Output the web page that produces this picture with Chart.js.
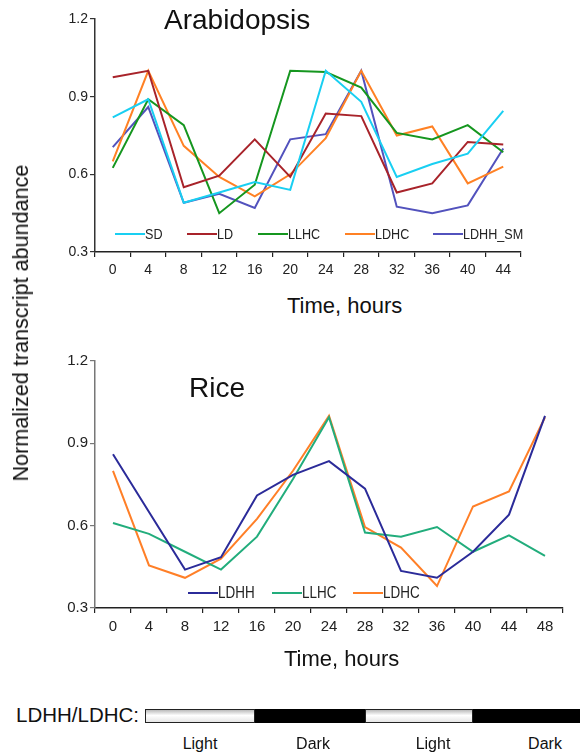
<!DOCTYPE html>
<html>
<head>
<meta charset="utf-8">
<script src="https://cdn.jsdelivr.net/npm/chart.js@4/dist/chart.umd.min.js"></script>
<style>
  body { margin: 0; background: #fff; width: 580px; height: 753px; position: relative; overflow: hidden;
         font-family: "Liberation Sans", Arial, sans-serif; color: #111; }
  canvas { position: absolute; left: 0; }
  .txt { position: absolute; white-space: nowrap; }
  .seg { position: absolute; top: 709px; height: 14px; box-sizing: border-box; }
</style>
</head>
<body>
<canvas id="arabChart" width="580" height="290" style="top:0px"></canvas>
<canvas id="riceChart" width="580" height="308" style="top:340px"></canvas>

<div class="txt" style="left:164px; top:4px; font-size:28px;">Arabidopsis</div>
<div class="txt" style="left:189px; top:372px; font-size:28px;">Rice</div>
<div class="txt" style="left:287px; top:293px; font-size:22px;">Time, hours</div>
<div class="txt" style="left:284px; top:646px; font-size:22px;">Time, hours</div>
<div class="txt" style="left:21px; top:323px; font-size:21.6px; transform: translate(-50%,-50%) rotate(-90deg);">Normalized transcript abundance</div>

<div class="txt" style="left:16px; top:703px; font-size:20.5px;">LDHH/LDHC:</div>
<div class="seg" style="left:145px; width:110px; border:1.5px solid #222; background: linear-gradient(#bbb, #fff 45%, #e6e6e6);"></div>
<div class="seg" style="left:255px; width:110px; background:#000;"></div>
<div class="seg" style="left:365px; width:108px; border:1.5px solid #222; background: linear-gradient(#bbb, #fff 45%, #e6e6e6);"></div>
<div class="seg" style="left:473px; width:107px; background:#000;"></div>
<div class="txt" style="left:200px; top:735px; font-size:16px; transform:translateX(-50%);">Light</div>
<div class="txt" style="left:313px; top:735px; font-size:16px; transform:translateX(-50%);">Dark</div>
<div class="txt" style="left:433px; top:735px; font-size:16px; transform:translateX(-50%);">Light</div>
<div class="txt" style="left:545px; top:735px; font-size:16px; transform:translateX(-50%);">Dark</div>

<script>
// Arabidopsis panel
const arabHours = ['0', '4', '8', '12', '16', '20', '24', '28', '32', '36', '40', '44'];
const arabSD     = [0.82, 0.89, 0.49, 0.53, 0.57, 0.54, 1.00, 0.88, 0.59, 0.64, 0.68, 0.845];
const arabLD     = [0.975, 1.00, 0.55, 0.595, 0.735, 0.59, 0.835, 0.825, 0.53, 0.565, 0.725, 0.715];
const arabLLHC   = [0.625, 0.89, 0.79, 0.45, 0.56, 1.00, 0.995, 0.935, 0.76, 0.735, 0.79, 0.685];
const arabLDHC   = [0.65, 1.00, 0.71, 0.59, 0.515, 0.60, 0.74, 1.00, 0.75, 0.785, 0.565, 0.63];
const arabLDHHSM = [0.705, 0.86, 0.49, 0.525, 0.47, 0.735, 0.755, 1.00, 0.475, 0.45, 0.48, 0.70];

// Rice panel
const riceHours = ['0', '4', '8', '12', '16', '20', '24', '28', '32', '36', '40', '44', '48'];
const riceLDHH = [0.86, 0.65, 0.44, 0.485, 0.71, 0.785, 0.835, 0.735, 0.435, 0.41, 0.505, 0.64, 1.00];
const riceLLHC = [0.61, 0.57, 0.505, 0.44, 0.56, 0.77, 0.995, 0.575, 0.56, 0.595, 0.505, 0.565, 0.49];
const riceLDHC = [0.80, 0.455, 0.41, 0.48, 0.625, 0.80, 1.00, 0.595, 0.52, 0.38, 0.67, 0.725, 0.995];

const yTicks = [0.3, 0.6, 0.9, 1.2];

const narrow = '"Liberation Sans Narrow", "Arial Narrow", "Liberation Sans", Arial, sans-serif';

// legend drawn inside the plot area, one entry per dataset at a given x
const insideLegend = {
    id: 'insideLegend',
    afterDraw(chart, args, opts) {
        const ctx = chart.ctx;
        ctx.save();
        ctx.font = opts.fontSize + 'px ' + narrow;
        ctx.textBaseline = 'middle';
        chart.data.datasets.forEach((ds, i) => {
            const x = opts.xs[i];
            ctx.strokeStyle = ds.borderColor;
            ctx.lineWidth = 2;
            ctx.beginPath();
            ctx.moveTo(x, opts.y);
            ctx.lineTo(x + 30, opts.y);
            ctx.stroke();
            // squeeze text a bit, the original uses a condensed face
            ctx.save();
            ctx.translate(x + 30, opts.y + 1);
            ctx.scale(0.84, 1);
            ctx.fillStyle = '#222';
            ctx.fillText(ds.label, 0, 0);
            ctx.restore();
        });
        ctx.restore();
    }
};

function makeScales(xHeight, yColor, xFont, yFont) {
    return {
        x: {
            type: 'category',
            offset: true,
            grid: { offset: true, drawOnChartArea: false, color: '#222', tickLength: 5, lineWidth: 1.2 },
            border: { color: '#222', width: 1.5 },
            ticks: { color: '#222', font: { family: narrow, size: xFont }, padding: 5, maxRotation: 0, autoSkip: false },
            afterFit: s => { s.height = xHeight; }
        },
        y: {
            min: 0.3,
            max: 1.2,
            afterBuildTicks: s => { s.ticks = yTicks.map(v => ({ value: v })); },
            grid: { drawOnChartArea: false, color: yColor, tickLength: 5, lineWidth: 1.2 },
            border: { color: yColor, width: 1.5 },
            ticks: { color: '#222', font: { family: narrow, size: yFont }, padding: 2, callback: v => v.toFixed(1) },
            afterFit: s => { s.width = 95; }
        }
    };
}

function line(label, data, color) {
    return { label: label, data: data, borderColor: color, backgroundColor: color,
             borderWidth: 2, pointRadius: 0, tension: 0, fill: false };
}

new Chart(document.getElementById('arabChart').getContext('2d'), {
    type: 'line',
    data: {
        labels: arabHours,
        datasets: [
            line('SD', arabSD, '#19cff2'),
            line('LD', arabLD, '#a8232a'),
            line('LLHC', arabLLHC, '#15961f'),
            line('LDHC', arabLDHC, '#ff8124'),
            line('LDHH_SM', arabLDHHSM, '#5252bd')
        ]
    },
    options: {
        responsive: false,
        animation: false,
        layout: { padding: { top: 19, right: 59, left: 0, bottom: 0 } },
        plugins: {
            legend: { display: false },
            tooltip: { enabled: false },
            insideLegend: { xs: [115, 187, 258, 345, 433], y: 234, fontSize: 15 }
        },
        scales: makeScales(38, '#333', 14, 14)
    },
    plugins: [insideLegend]
});

new Chart(document.getElementById('riceChart').getContext('2d'), {
    type: 'line',
    data: {
        labels: riceHours,
        datasets: [
            line('LDHH', riceLDHH, '#2b2b99'),
            line('LLHC', riceLLHC, '#22ad7c'),
            line('LDHC', riceLDHC, '#ff7f27')
        ]
    },
    options: {
        responsive: false,
        animation: false,
        layout: { padding: { top: 21, right: 17, left: 0, bottom: 0 } },
        plugins: {
            legend: { display: false },
            tooltip: { enabled: false },
            insideLegend: { xs: [188, 272, 353], y: 253, fontSize: 16 }
        },
        scales: makeScales(40, '#777', 15, 15)
    },
    plugins: [insideLegend]
});
</script>
</body>
</html>
